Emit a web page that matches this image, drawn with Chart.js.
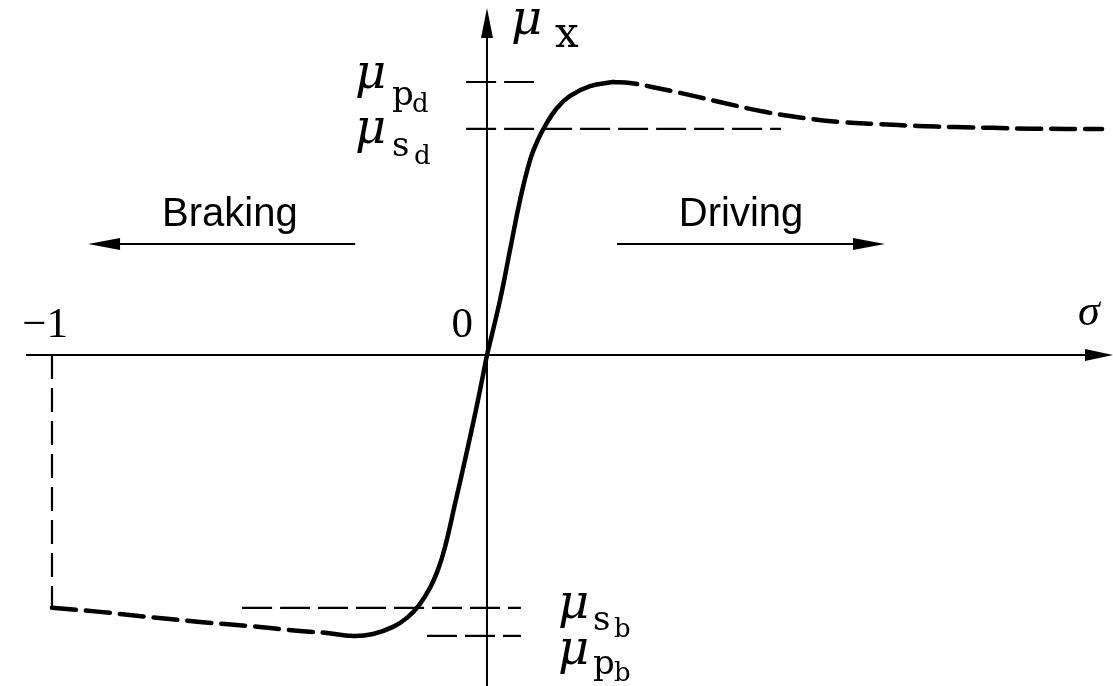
<!DOCTYPE html>
<html>
<head>
<meta charset="utf-8">
<script src="https://cdn.jsdelivr.net/npm/chart.js@4.4.1/dist/chart.umd.min.js"></script>
<style>
  html, body { margin: 0; padding: 0; background: #fff; }
  #wrap { width: 1113px; height: 686px; }
</style>
</head>
<body>
<div id="wrap"><canvas id="muSlip" width="1113" height="686"></canvas></div>
<script>
// slip ratio (sigma) against longitudinal friction coefficient (mu_x)
const drivingSlip = [0, 0.030, 0.053, 0.076, 0.099, 0.117, 0.136, 0.161, 0.191, 0.237, 0.290];
const drivingMu = [0, 0.201, 0.385, 0.568, 0.714, 0.788, 0.846, 0.905, 0.949, 0.985, 1.000];
const drivingTailSlip = [0.290, 0.329, 0.379, 0.467, 0.545, 0.641, 0.729, 0.814, 0.901, 0.989, 1.076, 1.163, 1.251, 1.414];
const drivingTailMu = [1.000, 0.996, 0.982, 0.952, 0.923, 0.890, 0.868, 0.853, 0.846, 0.839, 0.835, 0.832, 0.829, 0.828];
const brakingSlip = [-0.368, -0.308, -0.262, -0.216, -0.184, -0.156, -0.131, -0.113, -0.097, -0.074, -0.048, -0.023, 0];
const brakingMu = [-1.018, -1.029, -1.022, -0.996, -0.963, -0.916, -0.853, -0.788, -0.707, -0.549, -0.366, -0.183, 0];
const brakingTailSlip = [-1.0, -0.890, -0.775, -0.660, -0.545, -0.430, -0.368];
const brakingTailMu = [-0.926, -0.941, -0.960, -0.978, -0.993, -1.011, -1.018];

// peak / sliding levels and how far their guide lines run along sigma
const levelMu = [1.000, 0.828, -0.926, -1.029];
const levelFrom = [-0.048, -0.048, -0.563, -0.138];
const levelTo = [0.108, 0.676, 0.078, 0.078];

// tick labels on the sigma axis
const tickValues = [-1, 0];
const tickLabels = ['\u22121', '0'];

const toPoints = (xs, ys) => xs.map((x, i) => ({ x: x, y: ys[i] }));

const curveStyle = {
    showLine: true,
    borderColor: '#000',
    borderWidth: 4.5,
    pointRadius: 0,
    tension: 0.4,
    borderCapStyle: 'round',
    fill: false
};

const datasets = [
    Object.assign({ data: toPoints(drivingSlip, drivingMu) }, curveStyle),
    Object.assign({ data: toPoints(drivingTailSlip, drivingTailMu), borderDash: [24, 10] }, curveStyle),
    Object.assign({ data: toPoints(brakingSlip, brakingMu) }, curveStyle),
    Object.assign({ data: toPoints(brakingTailSlip, brakingTailMu), borderDash: [24, 10] }, curveStyle)
];

// thin dashed guides for each level
levelMu.forEach((mu, i) => {
    datasets.push({
        data: [{ x: levelFrom[i], y: mu }, { x: levelTo[i], y: mu }],
        showLine: true,
        borderColor: '#000',
        borderWidth: 2.2,
        borderDash: [30, 8],
        pointRadius: 0
    });
});

// drop line from sigma = -1 down to the braking sliding level
datasets.push({
    data: [{ x: -1, y: 0 }, { x: -1, y: levelMu[2] }],
    showLine: true,
    borderColor: '#000',
    borderWidth: 2.2,
    borderDash: [24, 9],
    pointRadius: 0
});

const SUBFONT = '"DejaVu Serif", serif';
const SERIF = '"DejaVu Serif", "Liberation Serif", serif';

function arrowHead(ctx, tipX, tipY, dirX, dirY, len, half) {
    const bx = tipX - dirX * len, by = tipY - dirY * len;
    ctx.beginPath();
    ctx.moveTo(tipX, tipY);
    ctx.lineTo(bx - dirY * half, by + dirX * half);
    ctx.lineTo(bx + dirY * half, by - dirX * half);
    ctx.closePath();
    ctx.fill();
}

// mu with a slab-serif subscript and an optional second-level subscript
function muLabel(ctx, x, base, sub, subDx, subDy, subSize, sub2, sub2Dx, sub2Dy, sub2Size) {
    ctx.textAlign = 'left';
    ctx.textBaseline = 'alphabetic';
    ctx.font = 'italic 48px ' + SERIF;
    ctx.fillText('\u03bc', x, base);
    ctx.font = subSize + 'px ' + SUBFONT;
    ctx.fillText(sub, x + subDx, base + subDy);
    if (sub2) {
        ctx.font = sub2Size + 'px ' + SUBFONT;
        ctx.fillText(sub2, x + sub2Dx, base + sub2Dy);
    }
}

const axesPlugin = {
    id: 'slipAxes',
    beforeDatasetsDraw(chart) {
        const { ctx, chartArea, scales } = chart;
        const x0 = scales.x.getPixelForValue(0);
        const y0 = scales.y.getPixelForValue(0);
        ctx.save();
        ctx.strokeStyle = '#000';
        ctx.fillStyle = '#000';
        ctx.lineWidth = 2;
        // sigma axis
        ctx.beginPath();
        ctx.moveTo(scales.x.getPixelForValue(-1.06), y0);
        ctx.lineTo(chartArea.right - 10, y0);
        ctx.stroke();
        arrowHead(ctx, chartArea.right, y0, 1, 0, 28, 6);
        // mu axis
        ctx.beginPath();
        ctx.moveTo(x0, chartArea.bottom);
        ctx.lineTo(x0, 20);
        ctx.stroke();
        arrowHead(ctx, x0, 8, 0, -1, 30, 6);
        ctx.restore();
    },
    afterDraw(chart) {
        const { ctx, scales } = chart;
        const px = v => scales.x.getPixelForValue(v);
        const py = v => scales.y.getPixelForValue(v);
        const x0 = px(0), y0 = py(0);
        ctx.save();
        ctx.fillStyle = '#000';
        ctx.strokeStyle = '#000';

        // tick labels and axis names
        ctx.font = '43px "Liberation Serif"';
        ctx.textBaseline = 'alphabetic';
        ctx.textAlign = 'right';
        ctx.fillText(tickLabels[0], px(tickValues[0]) + 16, y0 - 18);
        ctx.fillText(tickLabels[1], px(tickValues[1]) - 14, y0 - 18);
        ctx.textAlign = 'left';
        ctx.font = 'italic 44px "Liberation Serif"';
        ctx.fillText('\u03c3', 1078, y0 - 30);

        muLabel(ctx, x0 + 24, 34, 'x', 44, 13, 42);

        // level labels
        muLabel(ctx, x0 - 132, py(levelMu[0]) + 6, 'p', 37, 17, 34, 'd', 57, 24, 26);
        muLabel(ctx, x0 - 132, py(levelMu[1]) + 14, 's', 37, 13, 34, 'd', 59, 21, 26);
        muLabel(ctx, x0 + 71, py(levelMu[2]) + 10, 's', 35, 12, 34, 'b', 56, 19, 26);
        muLabel(ctx, x0 + 71, py(levelMu[3]) + 28, 'p', 35, 10, 34, 'b', 56, 17, 26);

        // direction arrows
        const arrowY = py(0.407);
        ctx.lineWidth = 2;
        ctx.beginPath();
        ctx.moveTo(px(-0.303), arrowY);
        ctx.lineTo(px(-0.917) + 20, arrowY);
        ctx.stroke();
        arrowHead(ctx, px(-0.917), arrowY, -1, 0, 32, 6);
        ctx.beginPath();
        ctx.moveTo(px(0.299), arrowY);
        ctx.lineTo(px(0.915) - 20, arrowY);
        ctx.stroke();
        arrowHead(ctx, px(0.915), arrowY, 1, 0, 32, 6);

        ctx.font = '40px "Liberation Sans"';
        ctx.textAlign = 'center';
        ctx.fillText('Braking', px(-0.591), py(0.473));
        ctx.fillText('Driving', px(0.584), py(0.473));
        ctx.restore();
    }
};

new Chart(document.getElementById('muSlip'), {
    type: 'scatter',
    data: { datasets: datasets },
    options: {
        responsive: false,
        animation: false,
        devicePixelRatio: 1,
        layout: { padding: 0 },
        scales: {
            x: { type: 'linear', min: -1.1195, max: 1.4391, display: false },
            y: { type: 'linear', min: -1.2125, max: 1.3004, display: false }
        },
        plugins: {
            legend: { display: false },
            tooltip: { enabled: false }
        }
    },
    plugins: [axesPlugin]
});
</script>
</body>
</html>
